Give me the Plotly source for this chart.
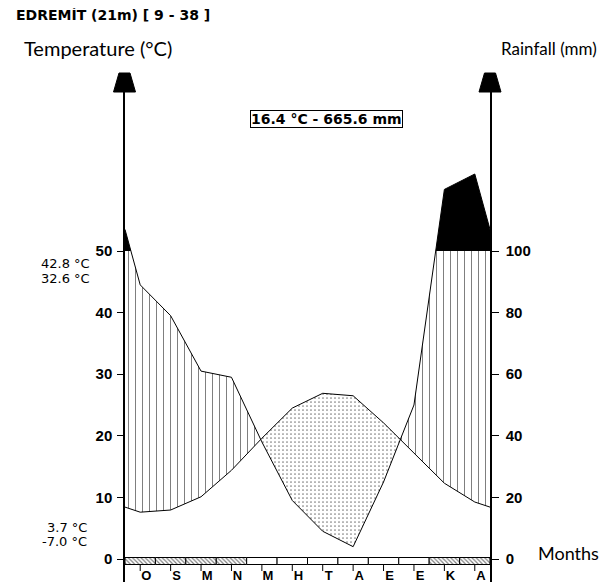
import numpy as np
import plotly.graph_objects as go

# ---------------- data ----------------
month_labels = ["O", "S", "M", "N", "M", "H", "T", "A", "E", "E", "K", "A"]
temperature_c = [7.6, 7.95, 10.1, 14.4, 19.6, 24.5, 26.9, 26.5, 22.1, 17.2, 12.3, 9.25]
rainfall_mm = [89, 79, 61, 59, 38, 19, 9, 4, 25, 50, 120, 125]
frost_months = [True, True, True, True, False, False, False, False, False, False, True, True]
temp_ticks = [0, 10, 20, 30, 40, 50]
rain_ticks = [0, 20, 40, 60, 80, 100]
title_text = "EDREMİT (21m) [ 9 - 38 ]"
summary_text = "16.4 °C - 665.6 mm"
left_top_labels = ["42.8 °C", "32.6 °C"]
left_bottom_labels = ["3.7 °C", "-7.0 °C"]
rain_per_degree = 2.0      # 20 mm per 10 °C
humid_limit = 50.0         # 100 mm line, in temperature units

# ---------------- geometry (page pixels; page body has an 8px margin) ----------------
OFF = 8
PAGE_W, PAGE_H = 611, 582
W, H = PAGE_W - OFF, PAGE_H - OFF
PL, PR, PT, PB = 125, 490, 92, 582
Y0, Y50 = 559, 251
ppu = (Y0 - Y50) / 50.0
y_lo = (Y0 - PB) / ppu
y_hi = (Y0 - PT) / ppu


def px(xp):
    return (xp - PL) / (PR - PL)


def py(yp):
    return (PB - yp) / (PB - PT)


# ---------------- curves ----------------
T = np.array(temperature_c, float)
R = np.array(rainfall_mm, float) / rain_per_degree
xv = np.concatenate([[0.0], np.arange(12) + 0.5, [12.0]])
Tv = np.concatenate([[(T[0] + T[-1]) / 2], T, [(T[0] + T[-1]) / 2]])
Rv = np.concatenate([[(R[0] + R[-1]) / 2], R, [(R[0] + R[-1]) / 2]])

xs = list(xv)
for i in range(len(xv) - 1):
    x1, x2 = xv[i], xv[i + 1]
    for a1, a2 in [(Rv[i] - Tv[i], Rv[i + 1] - Tv[i + 1]),
                   (Rv[i] - humid_limit, Rv[i + 1] - humid_limit)]:
        if a1 * a2 < 0:
            xs.append(x1 + (x2 - x1) * a1 / (a1 - a2))
xs = np.array(sorted(set(xs)))
Td = np.interp(xs, xv, Tv)
Rd = np.interp(xs, xv, Rv)

fig = go.Figure()

# humid (vertical hatching)
up = np.maximum(Td, np.minimum(Rd, humid_limit))
fig.add_trace(go.Scatter(
    x=np.concatenate([xs, xs[::-1]]), y=np.concatenate([up, Td[::-1]]),
    fill="toself", mode="none", fillcolor="white",
    fillpattern=dict(shape="|", size=7, solidity=0.15, fgcolor="black", bgcolor="white"),
    hoverinfo="skip", showlegend=False))

# very humid (> 100 mm, black)
upb = np.maximum(Rd, humid_limit)
fig.add_trace(go.Scatter(
    x=np.concatenate([xs, xs[::-1]]), y=np.concatenate([upb, np.full_like(xs, humid_limit)]),
    fill="toself", mode="none", fillcolor="black",
    hoverinfo="skip", showlegend=False))

# arid (dots)
lo = np.minimum(Rd, Td)
fig.add_trace(go.Scatter(
    x=np.concatenate([xs, xs[::-1]]), y=np.concatenate([Td, lo[::-1]]),
    fill="toself", mode="none", fillcolor="white",
    fillpattern=dict(shape=".", size=4, solidity=0.15, fgcolor="black", bgcolor="white"),
    hoverinfo="skip", showlegend=False))

# curves
fig.add_trace(go.Scatter(x=xv, y=Tv, mode="lines", line=dict(color="black", width=1),
                         hoverinfo="skip", showlegend=False))
fig.add_trace(go.Scatter(x=xv, y=Rv, mode="lines", line=dict(color="black", width=1),
                         hoverinfo="skip", showlegend=False))

# month bar
bar_top = (Y0 - 557.5) / ppu
bar_bot = (Y0 - 564.5) / ppu
centers = np.arange(12) + 0.5
fig.add_trace(go.Bar(
    x=centers, y=[bar_top - bar_bot] * 12, base=[bar_bot] * 12, width=1,
    marker=dict(color="white", line=dict(color="black", width=1),
                pattern=dict(shape=["\\" if f else "" for f in frost_months],
                             size=3, solidity=0.4, fgcolor="black", bgcolor="white")),
    hoverinfo="skip", showlegend=False))

# month ticks
tick_bot = (Y0 - 571) / ppu
tx, ty = [], []
for c in centers:
    tx += [c, c, None]
    ty += [bar_bot, tick_bot, None]
fig.add_trace(go.Scatter(x=tx, y=ty, mode="lines", line=dict(color="black", width=1),
                         hoverinfo="skip", showlegend=False, cliponaxis=False))

# month labels
fig.add_trace(go.Scatter(
    x=centers + 0.2, y=[(Y0 - 576.5) / ppu] * 12, mode="text", text=month_labels,
    textfont=dict(family="Liberation Sans", size=13, color="black", weight="bold"),
    textposition="middle center", cliponaxis=False, hoverinfo="skip", showlegend=False))

# rainfall axis dummy trace
fig.add_trace(go.Scatter(x=[None], y=[None], yaxis="y2", showlegend=False))

tick_font = dict(family="Liberation Sans", size=15, color="black", weight="bold")
fig.update_layout(
    width=W, height=H, autosize=False,
    margin=dict(l=PL - OFF, r=PAGE_W - PR, t=PT - OFF, b=PAGE_H - PB, pad=0),
    paper_bgcolor="white", plot_bgcolor="white",
    barmode="overlay",
    xaxis=dict(range=[0, 12], visible=False, fixedrange=True),
    yaxis=dict(range=[y_lo, y_hi], tickvals=temp_ticks, ticktext=[str(v) for v in temp_ticks],
               showline=True, linecolor="black", linewidth=1.5, ticks="outside", ticklen=6,
               tickcolor="black", tickwidth=1, showgrid=False, zeroline=False,
               tickfont=tick_font, ticklabelstandoff=2),
    yaxis2=dict(range=[y_lo * rain_per_degree, y_hi * rain_per_degree], tickvals=rain_ticks,
                ticktext=[str(v) for v in rain_ticks], overlaying="y", side="right", anchor="x",
                showline=True, linecolor="black", linewidth=1.5, ticks="outside", ticklen=7,
                tickcolor="black", tickwidth=1, showgrid=False, zeroline=False,
                tickfont=tick_font, ticklabelstandoff=4),
    font=dict(family="Liberation Sans", color="black"),
)

# axis arrows
for cx in (124.5, 490):
    path = (f"M {px(cx-5.5)} {py(73)} L {px(cx+5.5)} {py(73)} "
            f"L {px(cx+11)} {py(92)} L {px(cx-11)} {py(92)} Z")
    fig.add_shape(type="path", path=path, xref="paper", yref="paper",
                  fillcolor="black", line=dict(color="black", width=1))


def ann(text, x, y, xanchor="left", size=13, family="Liberation Sans", weight="normal", **kw):
    fig.add_annotation(text=text, x=px(x), y=py(y), xref="paper", yref="paper",
                       xanchor=xanchor, yanchor="middle", showarrow=False,
                       font=dict(family=family, size=size, color="black", weight=weight), **kw)


ann(title_text, 14, 15, size=14, family="DejaVu Sans", weight="bold")
ann("Temperature (°C)", 22, 48, size=20, family="Lato")
ann("Rainfall (mm)", 499, 48, size=17, family="Lato")
ann("Months", 536, 553, size=18, family="Lato")
ann(summary_text, 326, 119, xanchor="center", size=14, family="DejaVu Sans", weight="bold",
    bordercolor="black", borderwidth=1, borderpad=0, bgcolor="white")
ann(left_top_labels[0], 92, 263.5, xanchor="right", size=13, family="DejaVu Sans")
ann(left_top_labels[1], 92, 278, xanchor="right", size=13, family="DejaVu Sans")
ann(left_bottom_labels[0], 89, 527, xanchor="right", size=13, family="DejaVu Sans")
ann(left_bottom_labels[1], 89, 541, xanchor="right", size=13, family="DejaVu Sans")

fig.write_html("out.html")
